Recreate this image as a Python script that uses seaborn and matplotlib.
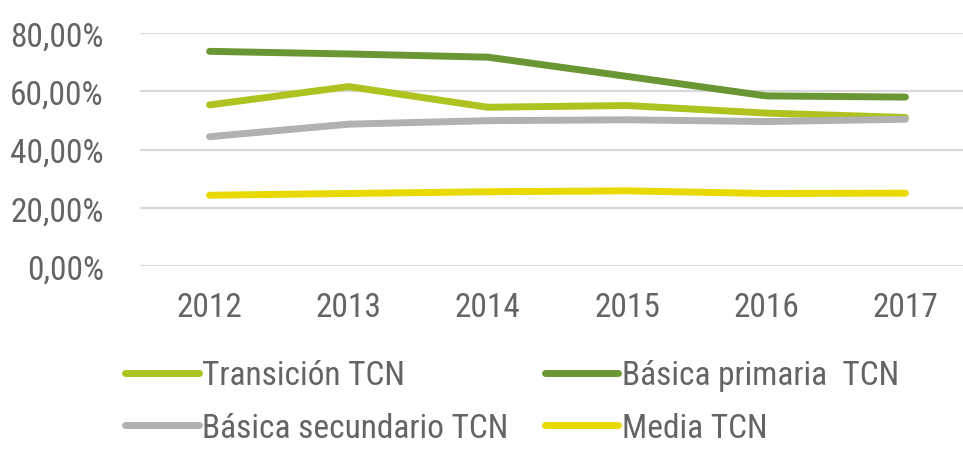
import matplotlib
matplotlib.use("Agg")
import matplotlib.pyplot as plt
from matplotlib import font_manager
import seaborn as sns
import pandas as pd

years = ["2012", "2013", "2014", "2015", "2016", "2017"]
transicion = [55.3, 61.6, 54.5, 55.1, 52.5, 51.0]
primaria = [73.7, 72.8, 71.7, 65.1, 58.4, 58.0]
secundaria = [44.4, 48.7, 49.9, 50.2, 49.6, 50.4]
media = [24.3, 24.9, 25.5, 25.8, 24.9, 25.0]

series_names = ["Transición TCN", "Básica primaria  TCN", "Básica secundario TCN", "Media TCN"]
series_values = [transicion, primaria, secundaria, media]
colors = ["#AEC31F", "#6A9733", "#B1B1B1", "#E8D900"]
yticks = [0, 20, 40, 60, 80]

sns.set_theme(style="white")
available = {f.name for f in font_manager.fontManager.ttflist}
fam = "Liberation Sans Narrow" if "Liberation Sans Narrow" in available else (
    "Roboto Condensed" if "Roboto Condensed" in available else "Liberation Sans")
plt.rcParams["font.family"] = [fam, "DejaVu Sans"]
text_color = "#646464"

rows = []
for name, vals in zip(series_names, series_values):
    for y, v in zip(years, vals):
        rows.append({"Año": y, "Valor": v, "Serie": name})
df = pd.DataFrame(rows)

fig = plt.figure(figsize=(9.63, 4.52), dpi=100)
ax = fig.add_axes([140 / 963, 1 - 267 / 452, (975 - 140) / 963, (267 - 34) / 452])

sns.lineplot(data=df, x="Año", y="Valor", hue="Serie", hue_order=series_names,
             palette=colors, linewidth=5, ax=ax, legend=True, sort=False)
for line in ax.get_lines():
    line.set_solid_capstyle("round")
    line.set_solid_joinstyle("round")

ax.set_xlim(-0.5, len(years) - 0.5)
ax.set_ylim(0, 80)
ax.set_yticks(yticks)
ax.set_yticklabels([f"{t:.2f}".replace(".", ",") + "%" for t in yticks])
ax.yaxis.grid(True, color="#D9D9D9", linewidth=1.6)
ax.set_axisbelow(True)
for s in ax.spines.values():
    s.set_visible(False)
ax.tick_params(axis="both", length=0, labelsize=24, colors=text_color)
ax.tick_params(axis="y", pad=26)
ax.tick_params(axis="x", pad=18)
ax.set_xlabel("")
ax.set_ylabel("")

handles, labels = ax.get_legend_handles_labels()
ax.get_legend().remove()
hmap = dict(zip(labels, handles))
order = [series_names[0], series_names[2], series_names[1], series_names[3]]
leg = fig.legend([hmap[n] for n in order], order, ncol=2, loc="upper left",
                 bbox_to_anchor=(112 / 963, 1 - 347 / 452), frameon=False,
                 fontsize=24, labelcolor=text_color, handlelength=2.2,
                 handletextpad=0.1, columnspacing=1.1, labelspacing=0.62,
                 borderaxespad=0)
for h in leg.get_lines():
    h.set_linewidth(5)
    h.set_solid_capstyle("round")

fig.savefig("out.png", dpi=100)
